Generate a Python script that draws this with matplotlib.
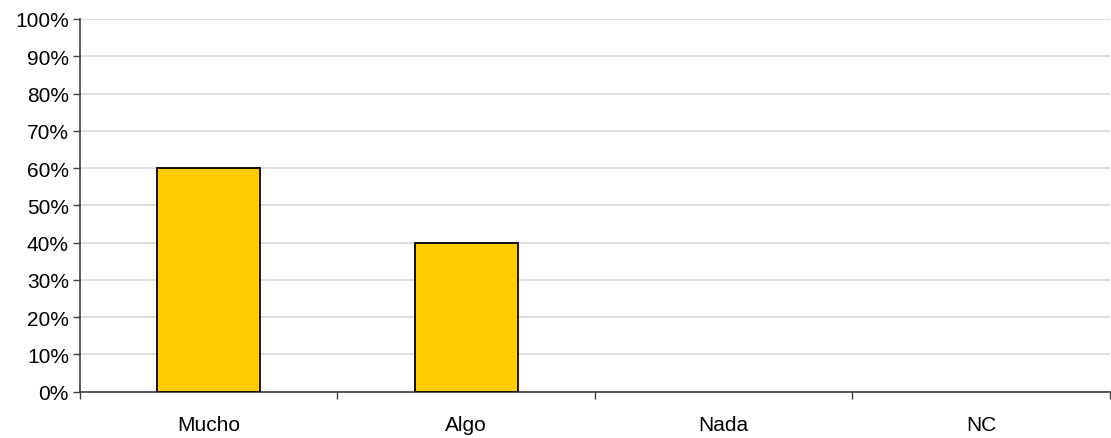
import matplotlib
matplotlib.use('Agg')
import matplotlib.pyplot as plt
from matplotlib.ticker import FixedLocator, PercentFormatter

categories = ['Mucho', 'Algo', 'Nada', 'NC']
values = [60, 40, 0, 0]

plt.rcParams['font.family'] = ['Liberation Sans', 'DejaVu Sans']

fig = plt.figure(figsize=(11.11, 4.39), dpi=100)
ax = fig.add_axes([0.072, 0.1055, 0.927, 0.849])

x = list(range(len(categories)))
edges = ['black' if v > 0 else 'none' for v in values]
ax.bar(x, values, width=0.4, color='#FFCC00', edgecolor=edges, linewidth=1.3, zorder=3)

ax.set_xlim(-0.5, len(categories) - 0.5)
ax.set_ylim(0, 100)
ax.set_yticks(range(0, 101, 10))
ax.yaxis.set_major_formatter(PercentFormatter(decimals=0))
ax.yaxis.grid(True, color='#d9d9d9', linewidth=1.2, zorder=0)

ax.set_xticks(x)
ax.set_xticklabels(categories)
ax.xaxis.set_minor_locator(FixedLocator([i - 0.5 for i in range(len(categories) + 1)]))
ax.tick_params(axis='x', which='major', length=0, pad=17, labelsize=15)
ax.tick_params(axis='x', which='minor', length=5, width=1, color='#404040')
ax.tick_params(axis='y', length=5, width=1, color='#404040', labelsize=15, pad=3)

for side in ['top', 'right']:
    ax.spines[side].set_visible(False)
ax.spines['left'].set_color('#404040')
ax.spines['bottom'].set_color('#404040')
ax.spines['left'].set_linewidth(1.2)
ax.spines['bottom'].set_linewidth(1.2)

fig.savefig('out.png', dpi=100)
